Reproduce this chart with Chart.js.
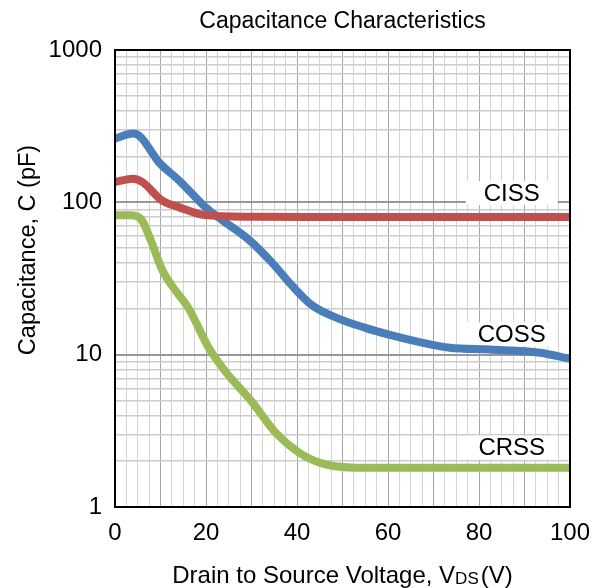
<!DOCTYPE html>
<html>
<head>
<meta charset="utf-8">
<script src="https://cdn.jsdelivr.net/npm/chart.js@4.4.1/dist/chart.umd.min.js"></script>
<style>
  html, body { margin: 0; padding: 0; background: #fff; }
  #wrap { width: 596px; height: 588px; }
</style>
</head>
<body>
<div id="wrap"><canvas id="capChart" width="596" height="588"></canvas></div>
<script>
// Capacitance vs drain-source voltage
const vdsCiss = [0, 4, 6, 10.3, 14, 19.8, 30, 43, 60, 80, 100];
const ciss    = [136, 143, 136, 103, 93, 82.4, 80.4, 80, 80, 80, 80];

const vdsCoss = [0, 4, 5.6, 9.6, 14, 20.2, 23.5, 29.4, 34.5, 38.9, 43.3, 49, 55, 60.4, 67, 73.6, 82.4, 93.4, 100];
const coss    = [262, 283, 269, 184, 140, 91, 76.6, 56.9, 40.2, 28.4, 21.1, 17.3, 15, 13.5, 12.1, 11.1, 10.8, 10.3, 9.4];

const vdsCrss = [0, 3.7, 5.9, 8.1, 10.3, 12.5, 16.2, 20.6, 24.2, 30.1, 35.2, 40.4, 44.8, 48, 55, 70, 85, 100];
const crss    = [82.4, 82.4, 76.5, 54, 36.4, 28.4, 20.1, 11.1, 7.8, 4.9, 3.1, 2.28, 1.96, 1.86, 1.81, 1.81, 1.81, 1.81];

const yTickValues = [1, 10, 100, 1000];
const xTickLabels = [0, 20, 40, 60, 80, 100];

// curve name labels: [text, x (V), y (pF)]
const curveLabels = [
  ['CISS', 87.2, 115],
  ['COSS', 87.2, 13.6],
  ['CRSS', 87.2, 2.45]
];

const FONT = 'Arial, "Liberation Sans", sans-serif';

function toPoints(xs, ys) {
  return xs.map((x, i) => ({ x: x, y: ys[i] }));
}

// all minor log gridlines 1..9 per decade
const logGrid = [];
for (let d = 1; d < 1000; d *= 10) {
  for (let m = 1; m < 10; m++) logGrid.push(m * d);
}
logGrid.push(1000);

const decorPlugin = {
  id: 'decor',
  beforeDatasetsDraw(chart) {
    const { ctx, scales } = chart;
    ctx.save();
    ctx.font = '24px ' + FONT;
    ctx.textAlign = 'center';
    ctx.textBaseline = 'middle';
    curveLabels.forEach(([txt, xv, yv]) => {
      const px = scales.x.getPixelForValue(xv);
      const py = scales.y.getPixelForValue(yv);
      ctx.fillStyle = '#ffffff';
      ctx.fillRect(px - 46, py - 12, 92, 24);
      ctx.fillStyle = '#000000';
      ctx.fillText(txt, px, py + 1);
    });
    ctx.restore();
  },
  afterDraw(chart) {
    const { ctx, chartArea: a } = chart;
    ctx.save();
    // frame
    ctx.strokeStyle = '#000';
    ctx.lineWidth = 2;
    ctx.strokeRect(a.left, a.top, a.right - a.left, a.bottom - a.top);

    const cx = (a.left + a.right) / 2;
    ctx.fillStyle = '#000';
    // title
    ctx.font = '23px ' + FONT;
    ctx.textAlign = 'center';
    ctx.textBaseline = 'alphabetic';
    ctx.fillText('Capacitance Characteristics', cx, 28);

    // x axis title with subscript
    const big = '24px ' + FONT, small = '17px ' + FONT;
    const p1 = 'Drain to Source Voltage, V', p2 = 'DS', p3 = '(V)';
    ctx.font = big; const w1 = ctx.measureText(p1).width; const w3 = ctx.measureText(p3).width;
    ctx.font = small; const w2 = ctx.measureText(p2).width;
    let x = cx - (w1 + w2 + 2 + w3) / 2;
    const base = 583;
    ctx.textAlign = 'left';
    ctx.font = big; ctx.fillText(p1, x, base); x += w1;
    ctx.font = small; ctx.fillText(p2, x, base + 1); x += w2 + 2;
    ctx.font = big; ctx.fillText(p3, x, base);

    // y axis title (sits above the plot's mid-height in the original)
    ctx.translate(29, 250);
    ctx.rotate(-Math.PI / 2);
    ctx.textAlign = 'center';
    ctx.textBaseline = 'middle';
    ctx.font = '23.5px ' + FONT;
    ctx.fillText('Capacitance, C (pF)', 0, 0);
    ctx.restore();
  }
};

function lineSet(label, xs, ys, color) {
  return {
    label: label,
    data: toPoints(xs, ys),
    borderColor: color,
    backgroundColor: color,
    borderWidth: 8,
    pointRadius: 0,
    cubicInterpolationMode: 'monotone',
    borderCapStyle: 'butt',
    borderJoinStyle: 'round',
    fill: false
  };
}

new Chart(document.getElementById('capChart').getContext('2d'), {
  type: 'line',
  data: {
    datasets: [
      lineSet('CISS', vdsCiss, ciss, '#c0504d'),
      lineSet('COSS', vdsCoss, coss, '#4a7ebb'),
      lineSet('CRSS', vdsCrss, crss, '#9bbb59')
    ]
  },
  options: {
    responsive: false,
    animation: false,
    layout: { padding: { top: 50, right: 26, left: 0, bottom: 0 } },
    plugins: { legend: { display: false }, title: { display: false }, tooltip: { enabled: false } },
    scales: {
      x: {
        type: 'linear',
        min: 0, max: 100,
        afterBuildTicks(scale) {
          const t = [];
          for (let v = 0; v <= 100; v += 2.5) t.push({ value: v });
          scale.ticks = t;
        },
        afterFit(scale) {
          scale.height = 81;
          scale.paddingLeft = 0;
          scale.paddingRight = 0;
        },
        ticks: {
          autoSkip: false,
          maxRotation: 0,
          padding: 12,
          color: '#000',
          font: { family: FONT, size: 24 },
          callback: v => xTickLabels.includes(v) ? String(v) : ''
        },
        grid: {
          drawTicks: false,
          color: c => (c.tick && c.tick.value % 10 === 0) ? '#a6a6a6' : '#d4d4d4',
          lineWidth: 1
        },
        border: { display: true, color: '#000', width: 2 }
      },
      y: {
        type: 'logarithmic',
        min: 1, max: 1000,
        afterBuildTicks(scale) {
          scale.ticks = logGrid.map(v => ({ value: v }));
        },
        afterFit(scale) {
          scale.width = 115;
          scale.paddingTop = 0;
          scale.paddingBottom = 0;
        },
        ticks: {
          autoSkip: false,
          padding: 13,
          color: '#000',
          font: { family: FONT, size: 24 },
          callback: v => yTickValues.includes(v) ? String(v) : ''
        },
        grid: {
          drawTicks: false,
          color: c => (c.tick && yTickValues.includes(c.tick.value)) ? '#999999' : '#cccccc',
          lineWidth: c => (c.tick && yTickValues.includes(c.tick.value)) ? 2 : 1.5
        },
        border: { display: true, color: '#000', width: 2 }
      }
    }
  },
  plugins: [decorPlugin]
});
</script>
</body>
</html>
